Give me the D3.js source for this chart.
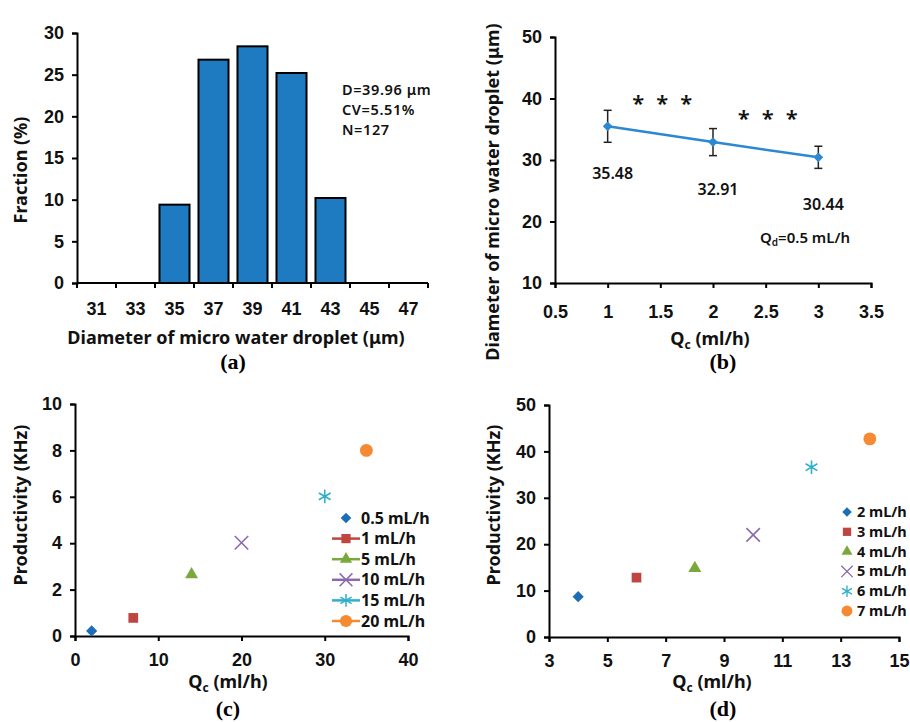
<!DOCTYPE html>
<html>
<head>
<meta charset="utf-8">
<script src="https://cdn.jsdelivr.net/npm/d3@7"></script>
<style>
	body { margin: 0; background: #fff; }
	svg { display: block; font-family: "Noto Sans", "Open Sans", sans-serif; }
	.axis path, .axis line { stroke: #000; stroke-width: 2; }
	.axis text { font-size: 18px; font-weight: bold; fill: #111; }
	.title { font-size: 18px; font-weight: bold; fill: #111; }
	.note { font-size: 16px; font-weight: 600; fill: #111; }
	.tag { font-family: "Liberation Serif", "DejaVu Serif", serif; font-size: 22px; font-weight: bold; }
</style>
</head>
<body>
<div id="root"></div>
<script>
// (a) histogram
const histBins = ["31", "33", "35", "37", "39", "41", "43", "45", "47"];
const histFractions = [0, 0, 9.4, 26.8, 28.4, 25.2, 10.2, 0, 0];
const histTicks = [0, 5, 10, 15, 20, 25, 30];
const histNotes = ["D=39.96 μm", "CV=5.51%", "N=127"];

// (b) diameter vs Qc
const qcB = [1, 2, 3];
const diameterB = [35.48, 32.91, 30.44];
const errorB = [2.6, 2.2, 1.8];
const ticksBx = [0.5, 1, 1.5, 2, 2.5, 3, 3.5];
const ticksBy = [10, 20, 30, 40, 50];

// (c) productivity, Qd series
const qcC = [2, 7, 14, 20, 30, 35];
const prodC = [0.22, 0.78, 2.65, 4.02, 6.02, 8.0];
const labelsC = ["0.5 mL/h", "1 mL/h", "5 mL/h", "10 mL/h", "15 mL/h", "20 mL/h"];

// (d) productivity, Qd series
const qcD = [4, 6, 8, 10, 12, 14];
const prodD = [8.7, 12.8, 14.8, 22.0, 36.6, 42.7];
const labelsD = ["2 mL/h", "3 mL/h", "4 mL/h", "5 mL/h", "6 mL/h", "7 mL/h"];

const markerColors = ["#1c6db4", "#c0443f", "#7ba83c", "#8a6aad", "#2fb0c8", "#f68a33"];
const markerShapes = ["diamond", "square", "triangle", "x", "star", "circle"];

const makeDemo = () => {
	const svg = d3.select("#root")
		.append("svg")
			.attr("width", 910)
			.attr("height", 722);

	drawHistogram(svg);
	drawLine(svg);
	drawScatter(svg, {
		x: d3.scaleLinear().domain([0, 40]).range([75, 408]),
		y: d3.scaleLinear().domain([0, 10]).range([636, 404]),
		xTicks: [0, 10, 20, 30, 40], yTicks: [0, 2, 4, 6, 8, 10],
		qc: qcC, prod: prodC, labels: labelsC,
		legendX: 346, legendY: 518, legendStep: 20.6, legendLines: true, legendFont: 16,
		yTitleX: 21, titleX: 228, tagX: 228, tag: "(c)"
	});
	drawScatter(svg, {
		x: d3.scaleLinear().domain([3, 15]).range([549, 899]),
		y: d3.scaleLinear().domain([0, 50]).range([637, 405]),
		xTicks: [3, 5, 7, 9, 11, 13, 15], yTicks: [0, 10, 20, 30, 40, 50],
		qc: qcD, prod: prodD, labels: labelsD,
		legendX: 847, legendY: 512, legendStep: 19.8, legendLines: false, legendFont: 14.5,
		yTitleX: 494, titleX: 712, tagX: 723, tag: "(d)"
	});
};

const yTitle = (svg, x, y, text) => {
	svg.append("text")
		.attr("class", "title")
		.attr("text-anchor", "middle")
		.attr("transform", `translate(${x}, ${y}) rotate(-90)`)
		.attr("dy", "0.35em")
		.text(text);
};

const qcTitle = (svg, x, y) => {
	const t = svg.append("text")
		.attr("class", "title")
		.attr("x", x)
		.attr("y", y)
		.attr("text-anchor", "middle")
		.attr("dy", "0.3em");
	t.append("tspan").text("Q");
	t.append("tspan").style("font-size", "12px").attr("dy", 4).text("c");
	t.append("tspan").attr("dy", -4).text(" (ml/h)");
};

const tagText = (svg, x, y, text) => {
	svg.append("text")
		.attr("class", "tag")
		.attr("x", x)
		.attr("y", y)
		.attr("text-anchor", "middle")
		.attr("dy", "0.35em")
		.text(text);
};

const drawHistogram = (svg) => {
	const x = d3.scaleBand().domain(histBins).range([77, 428]).paddingInner(0.23).paddingOuter(0.115);
	const y = d3.scaleLinear().domain([0, 30]).range([283, 33]);
	const bars = histBins.map((b, i) => ({ bin: b, v: histFractions[i] })).filter(d => d.v > 0);

	svg.append("g")
		.attr("fill", "#1f7bc1")
		.attr("stroke", "#000")
		.attr("stroke-width", 2)
		.selectAll("rect")
		.data(bars)
			.enter()
		.append("rect")
			.attr("x", d => x(d.bin))
			.attr("y", d => y(d.v))
			.attr("width", x.bandwidth())
			.attr("height", d => y(0) - y(d.v));

	svg.append("g")
		.attr("class", "axis")
		.attr("transform", "translate(77, 0)")
		.call(d3.axisLeft(y).tickValues(histTicks).tickSize(5).tickPadding(8));

	// category ticks sit on band edges
	const xAxis = svg.append("g")
		.attr("class", "axis")
		.attr("transform", `translate(0, ${y(0)})`)
		.call(d3.axisBottom(x).tickSize(0).tickPadding(19));
	xAxis.select(".domain").attr("d", "M77,0H428");
	xAxis.selectAll(".edge")
		.data(d3.range(histBins.length + 1))
			.enter()
		.append("line")
			.attr("x1", i => 77 + i * x.step())
			.attr("x2", i => 77 + i * x.step())
			.attr("y1", 0)
			.attr("y2", 5);

	svg.append("g")
		.selectAll("text")
		.data(histNotes)
			.enter()
		.append("text")
			.attr("class", "note")
			.style("font-size", "14.5px")
			.style("letter-spacing", "0.6px")
			.attr("x", 342)
			.attr("y", (d, i) => 90 + i * 20)
			.attr("dy", "0.35em")
			.text(d => d);

	yTitle(svg, 21, 170, "Fraction (%)");
	svg.append("text")
		.attr("class", "title")
		.attr("x", 236)
		.attr("y", 338)
		.attr("text-anchor", "middle")
		.attr("dy", "0.35em")
		.text("Diameter of micro water droplet (μm)");
	tagText(svg, 233, 361, "(a)");
};

const drawLine = (svg) => {
	const x = d3.scaleLinear().domain([0.5, 3.5]).range([555, 871]);
	const y = d3.scaleLinear().domain([10, 50]).range([283, 37]);
	const points = qcB.map((q, i) => ({ q, d: diameterB[i], e: errorB[i] }));

	svg.append("g")
		.attr("class", "axis")
		.attr("transform", "translate(555, 0)")
		.call(d3.axisLeft(y).tickValues(ticksBy).tickSize(5).tickPadding(8));
	svg.append("g")
		.attr("class", "axis")
		.attr("transform", `translate(0, ${y(10)})`)
		.call(d3.axisBottom(x).tickValues(ticksBx).tickFormat(d3.format("")).tickSize(5).tickPadding(17));

	const bars = svg.append("g")
		.attr("stroke", "#222")
		.attr("stroke-width", 1.5)
		.selectAll("g")
		.data(points)
			.enter()
		.append("g");
	bars.append("line")
		.attr("x1", d => x(d.q)).attr("x2", d => x(d.q))
		.attr("y1", d => y(d.d - d.e)).attr("y2", d => y(d.d + d.e));
	bars.append("line")
		.attr("x1", d => x(d.q) - 4).attr("x2", d => x(d.q) + 4)
		.attr("y1", d => y(d.d + d.e)).attr("y2", d => y(d.d + d.e));
	bars.append("line")
		.attr("x1", d => x(d.q) - 4).attr("x2", d => x(d.q) + 4)
		.attr("y1", d => y(d.d - d.e)).attr("y2", d => y(d.d - d.e));

	svg.append("path")
		.datum(points)
		.attr("fill", "none")
		.attr("stroke", "#2c88d0")
		.attr("stroke-width", 2.5)
		.attr("d", d3.line().x(d => x(d.q)).y(d => y(d.d)));

	svg.append("g")
		.selectAll("path")
		.data(points)
			.enter()
		.append("path")
			.attr("fill", "#2c88d0")
			.attr("transform", d => `translate(${x(d.q)}, ${y(d.d)})`)
			.attr("d", d3.symbol(d3.symbolDiamond2, 60));

	svg.append("g")
		.selectAll("text")
		.data(points)
			.enter()
		.append("text")
			.attr("class", "note")
			.attr("x", d => x(d.q) + 5)
			.attr("y", d => y(d.d) + 47)
			.attr("dy", "0.35em")
			.attr("text-anchor", "middle")
			.text(d => d.d.toFixed(2));

	// significance stars between points
	svg.append("g")
		.selectAll("text")
		.data(d3.pairs(points))
			.enter()
		.append("text")
			.attr("class", "note")
			.style("font-size", "22px")
			.style("letter-spacing", "12px")
			.attr("x", d => x((d[0].q + d[1].q) / 2) + 8)
			.attr("y", d => y((d[0].d + d[1].d) / 2) - 39)
			.attr("dy", "0.7em")
			.attr("text-anchor", "middle")
			.text("***");

	const qd = svg.append("text")
		.attr("class", "note")
		.style("font-size", "15px")
		.attr("x", 760)
		.attr("y", 238)
		.attr("dy", "0.35em");
	qd.append("tspan").text("Q");
	qd.append("tspan").style("font-size", "10px").attr("dy", 3).text("d");
	qd.append("tspan").attr("dy", -3).text("=0.5 mL/h");

	yTitle(svg, 493, 192, "Diameter of micro water droplet (μm)");
	qcTitle(svg, 710, 340);
	tagText(svg, 723, 361, "(b)");
};

const markerPath = (shape) => {
	const s = {
		diamond: d3.symbol(d3.symbolDiamond2, 80),
		square: d3.symbol(d3.symbolSquare2, 120),
		triangle: d3.symbol(d3.symbolTriangle2, 120),
		x: d3.symbol(d3.symbolX, 120),
		star: d3.symbol(d3.symbolAsterisk, 130),
		circle: d3.symbol(d3.symbolCircle, 130)
	};
	return s[shape]();
};

const drawScatter = (svg, cfg) => {
	const { x, y } = cfg;

	svg.append("g")
		.attr("class", "axis")
		.attr("transform", `translate(${x.range()[0]}, 0)`)
		.call(d3.axisLeft(y).tickValues(cfg.yTicks).tickSize(5).tickPadding(8));
	svg.append("g")
		.attr("class", "axis")
		.attr("transform", `translate(0, ${y.range()[0]})`)
		.call(d3.axisBottom(x).tickValues(cfg.xTicks).tickSize(5).tickPadding(12));

	const drawMarker = (sel, i, scale) => {
		const shape = markerShapes[i];
		const line = shape === "x" || shape === "star";
		sel.append("path")
			.attr("d", markerPath(shape))
			.attr("transform", `scale(${scale})`)
			.attr("fill", line ? "none" : markerColors[i])
			.attr("stroke", line ? markerColors[i] : "none")
			.attr("stroke-width", line ? 1.6 : 0);
	};

	cfg.qc.forEach((q, i) => {
		const g = svg.append("g").attr("transform", `translate(${x(q)}, ${y(cfg.prod[i])})`);
		drawMarker(g, i, 1);
	});

	const legend = svg.append("g")
		.selectAll("g")
		.data(cfg.labels)
			.enter()
		.append("g")
			.attr("transform", (d, i) => `translate(${cfg.legendX}, ${cfg.legendY + i * cfg.legendStep})`);

	legend.each(function (d, i) {
		const g = d3.select(this);
		if (cfg.legendLines && i > 0) {
			g.append("line")
				.attr("x1", -14).attr("x2", 14)
				.attr("stroke", markerColors[i])
				.attr("stroke-width", 2.5);
		}
		drawMarker(g, i, cfg.legendLines ? 0.95 : 0.85);
		g.append("text")
			.attr("class", "title")
			.style("font-size", cfg.legendFont + "px")
			.attr("x", cfg.legendLines ? 15 : 10)
			.attr("dy", "0.35em")
			.text(d);
	});

	yTitle(svg, cfg.yTitleX, 505, "Productivity (KHz)");
	qcTitle(svg, cfg.titleX, 683);
	tagText(svg, cfg.tagX, 708, cfg.tag);
};

makeDemo();
</script>
</body>
</html>
